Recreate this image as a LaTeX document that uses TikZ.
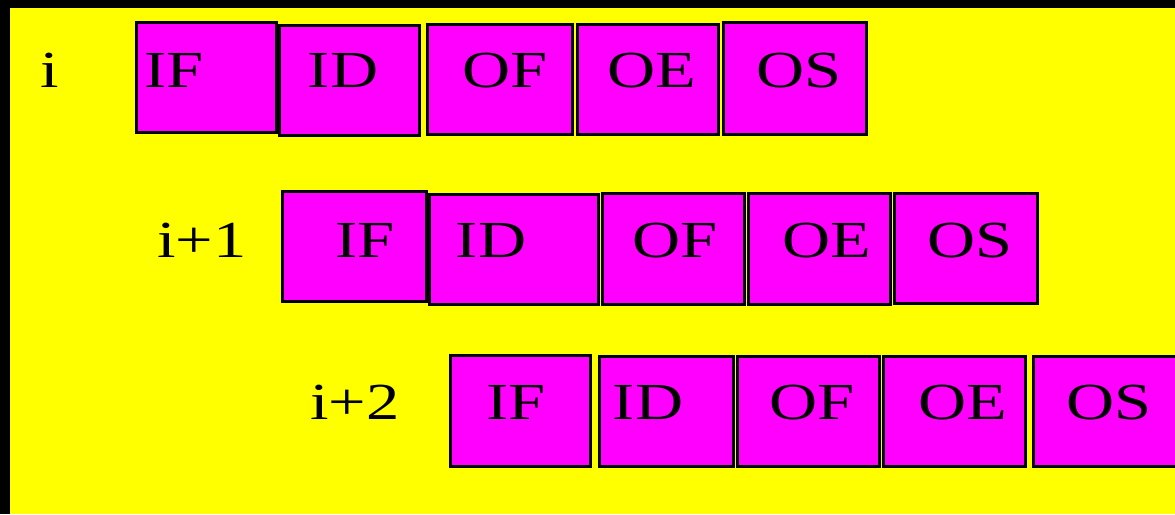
\documentclass[tikz,border=0pt]{standalone}
\usepackage{fontspec}
\setmainfont{Liberation Serif}[FakeStretch=1.28]
\definecolor{stagepink}{RGB}{255,0,255}
\definecolor{backyellow}{RGB}{255,255,0}

\begin{document}
\begin{tikzpicture}[
    x=1pt, y=-1pt,
    stage/.style={draw=black, line width=3pt, fill=stagepink, inner sep=0pt, anchor=north west},
    tag/.style={anchor=base, inner sep=0pt, font=\fontsize{52}{60}\selectfont},
]
  \useasboundingbox (0,0) rectangle (1175,514);
  \fill[black] (0,0) rectangle (1175,514);
  \fill[backyellow] (10,8) rectangle (1175,514);

  % instruction i
  \node[tag] (lab1) at (50,87) {i};
  \foreach \n/\l/\t/\r/\b/\tx in {IF/133/19/276/132/174, ID/276/22/419/135/343,
      OF/424/21/572/134/505, OE/574/21/718/134/652, OS/720/19/866/134/799} {
    \node[stage, minimum width=\r pt-\l pt-3pt, minimum height=\b pt-\t pt-3pt] (r1-\n) at (\l+1.5,\t+1.5) {};
    \node[tag] (r1-\n-t) at (\tx,87) {\n};
  }

  % instruction i+1
  \node[tag] (lab2) at (202,257) {i+1};
  \foreach \n/\l/\t/\r/\b/\tx in {IF/279/188/426/301/365, ID/426/191/598/304/491,
      OF/599/190/744/304/675, OE/745/190/890/304/827, OS/891/190/1037/303/970} {
    \node[stage, minimum width=\r pt-\l pt-3pt, minimum height=\b pt-\t pt-3pt] (r2-\n) at (\l+1.5,\t+1.5) {};
    \node[tag] (r2-\n-t) at (\tx,257) {\n};
  }

  % instruction i+2
  \node[tag] (lab3) at (355,419) {i+2};
  \foreach \n/\l/\t/\r/\b/\tx in {IF/447/352/590/466/516, ID/596/353/733/466/648,
      OF/734/353/879/466/812, OE/880/353/1025/466/963, OS/1030/353/1178/466/1109} {
    \node[stage, minimum width=\r pt-\l pt-3pt, minimum height=\b pt-\t pt-3pt] (r3-\n) at (\l+1.5,\t+1.5) {};
    \node[tag] (r3-\n-t) at (\tx,419) {\n};
  }
\end{tikzpicture}
\end{document}
